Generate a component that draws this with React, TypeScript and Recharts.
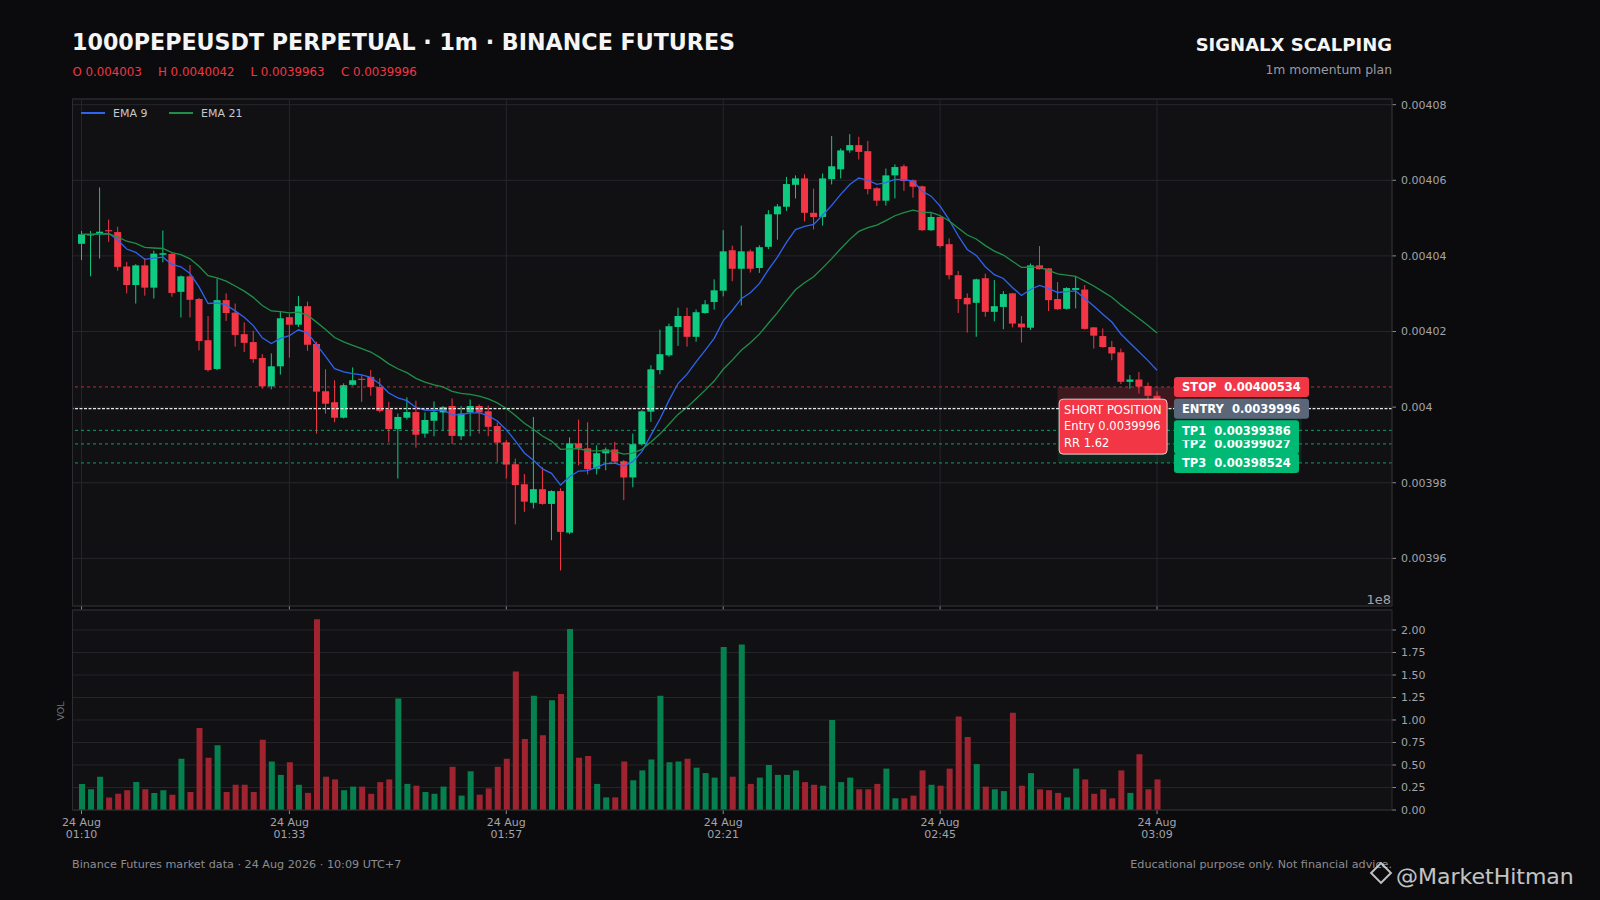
import React from 'react';
import {
  ComposedChart,
  Bar,
  Line,
  XAxis,
  YAxis,
  CartesianGrid,
  ReferenceLine,
  ReferenceArea,
  Cell,
} from 'recharts';

// 1m candles, 01:10 -> 03:09 (index 0..119)
const opens = [
  0.0040432, 0.0040454, 0.0040459, 0.0040468, 0.0040463, 0.0040372, 0.0040323, 0.0040375, 0.0040316, 0.0040403,
  0.0040405, 0.0040305, 0.0040346, 0.0040286, 0.0040177, 0.0040101, 0.0040283, 0.004025, 0.0040193, 0.0040172,
  0.004013, 0.0040055, 0.0040108, 0.0040238, 0.0040218, 0.0040267, 0.0040167, 0.0040042, 0.0040013, 0.0039972,
  0.0040059, 0.0040075, 0.004008, 0.0040053, 0.0039994, 0.0039942, 0.0039972, 0.0039987, 0.003993, 0.0039964,
  0.0039986, 0.0040003, 0.0039923, 0.0039986, 0.0040003, 0.0039989, 0.003995, 0.0039907, 0.0039849, 0.0039796,
  0.0039747, 0.0039783, 0.0039744, 0.0039778, 0.0039668, 0.0039904, 0.0039891, 0.0039837, 0.0039878, 0.0039888,
  0.0039857, 0.0039814, 0.0039902, 0.0039988, 0.0040098, 0.0040137, 0.0040212, 0.0040241, 0.0040186, 0.0040249,
  0.0040278, 0.0040308, 0.0040415, 0.0040366, 0.0040412, 0.0040368, 0.0040424, 0.004051, 0.004053, 0.0040588,
  0.0040605, 0.0040514, 0.0040503, 0.0040603, 0.0040629, 0.0040679, 0.0040693, 0.0040677, 0.0040579, 0.0040546,
  0.0040613, 0.0040637, 0.00406, 0.0040584, 0.0040468, 0.0040503, 0.0040431, 0.0040349, 0.0040289, 0.0040276,
  0.0040341, 0.0040252, 0.0040265, 0.0040301, 0.0040221, 0.004021, 0.0040375, 0.0040367, 0.0040286, 0.004026,
  0.004031, 0.0040311, 0.0040211, 0.0040188, 0.0040159, 0.0040145, 0.0040067, 0.0040073, 0.0040056, 0.004003,
];
const highs = [
  0.0040466, 0.0040466, 0.0040581, 0.0040496, 0.0040477, 0.0040384, 0.0040378, 0.0040394, 0.0040414, 0.0040467,
  0.0040408, 0.0040348, 0.0040376, 0.0040289, 0.0040241, 0.004034, 0.0040301, 0.0040274, 0.0040224, 0.0040202,
  0.004014, 0.0040142, 0.0040252, 0.0040248, 0.0040294, 0.0040279, 0.0040173, 0.00401, 0.0040071, 0.0040063,
  0.0040105, 0.0040085, 0.0040098, 0.0040076, 0.0040014, 0.0039983, 0.0040026, 0.0040017, 0.0039986, 0.0040015,
  0.0040003, 0.0040023, 0.0040003, 0.004002, 0.0040007, 0.0040004, 0.0039959, 0.0039913, 0.0039864, 0.0039823,
  0.0039974, 0.0039841, 0.003978, 0.0039785, 0.003992, 0.0039967, 0.003996, 0.0039899, 0.0039893, 0.0039908,
  0.003986, 0.003993, 0.0039992, 0.0040111, 0.0040205, 0.0040221, 0.0040263, 0.0040263, 0.0040258, 0.0040283,
  0.0040338, 0.0040468, 0.0040427, 0.004048, 0.0040417, 0.0040428, 0.0040521, 0.0040537, 0.0040609, 0.0040613,
  0.0040616, 0.0040578, 0.0040618, 0.0040717, 0.0040684, 0.0040722, 0.0040715, 0.0040704, 0.0040582, 0.0040631,
  0.0040642, 0.0040642, 0.0040602, 0.0040586, 0.0040516, 0.0040505, 0.0040446, 0.004036, 0.0040301, 0.004034,
  0.0040353, 0.0040336, 0.0040307, 0.0040302, 0.0040241, 0.004038, 0.0040426, 0.0040368, 0.0040331, 0.0040317,
  0.0040346, 0.0040323, 0.0040212, 0.0040208, 0.0040175, 0.0040155, 0.0040085, 0.0040093, 0.0040065, 0.0040042,
];
const lows = [
  0.0040389, 0.0040346, 0.0040393, 0.0040437, 0.0040361, 0.0040301, 0.0040274, 0.0040295, 0.0040287, 0.0040383,
  0.0040292, 0.0040237, 0.0040237, 0.004015, 0.0040094, 0.0040098, 0.0040228, 0.004016, 0.0040146, 0.0040117,
  0.0040049, 0.0040047, 0.0040086, 0.0040131, 0.0040212, 0.0040149, 0.003993, 0.0039983, 0.003996, 0.003997,
  0.0040057, 0.0040014, 0.004003, 0.0039986, 0.0039907, 0.0039811, 0.0039967, 0.0039893, 0.0039919, 0.0039923,
  0.0039939, 0.0039902, 0.0039913, 0.0039923, 0.003993, 0.0039923, 0.0039855, 0.0039811, 0.003969, 0.0039723,
  0.0039732, 0.0039742, 0.0039648, 0.0039568, 0.0039664, 0.0039846, 0.0039822, 0.0039822, 0.0039833, 0.0039851,
  0.0039754, 0.0039788, 0.0039898, 0.0039961, 0.0040087, 0.0040133, 0.0040162, 0.004016, 0.0040173, 0.0040247,
  0.0040258, 0.0040293, 0.0040333, 0.0040269, 0.0040356, 0.0040355, 0.0040418, 0.0040443, 0.0040519, 0.0040552,
  0.0040491, 0.004047, 0.004048, 0.0040589, 0.0040605, 0.0040673, 0.0040655, 0.0040563, 0.0040532, 0.0040533,
  0.0040552, 0.0040572, 0.0040554, 0.0040466, 0.0040466, 0.0040422, 0.0040338, 0.0040249, 0.0040197, 0.0040186,
  0.0040239, 0.0040227, 0.0040206, 0.0040211, 0.0040171, 0.0040204, 0.0040364, 0.0040254, 0.0040257, 0.0040258,
  0.0040261, 0.0040205, 0.0040155, 0.0040157, 0.0040124, 0.0040061, 0.0040049, 0.0040036, 0.0040014, 0.0039963,
];
const closes = [
  0.0040457, 0.0040457, 0.0040464, 0.0040465, 0.0040371, 0.0040323, 0.0040375, 0.0040316, 0.0040406, 0.0040407,
  0.0040302, 0.0040346, 0.0040284, 0.0040175, 0.0040098, 0.0040283, 0.0040249, 0.0040191, 0.004017, 0.0040127,
  0.0040055, 0.0040108, 0.0040235, 0.0040218, 0.0040267, 0.0040165, 0.0040041, 0.0040009, 0.0039972, 0.0040058,
  0.0040071, 0.0040072, 0.0040053, 0.003999, 0.0039942, 0.0039974, 0.0039987, 0.0039927, 0.0039966, 0.0039987,
  0.004, 0.0039924, 0.0039983, 0.0040003, 0.0039986, 0.0039948, 0.0039906, 0.0039848, 0.0039794, 0.003975,
  0.0039783, 0.0039744, 0.0039778, 0.003967, 0.0039904, 0.0039891, 0.0039836, 0.0039878, 0.0039888, 0.0039856,
  0.0039814, 0.0039902, 0.0039989, 0.00401, 0.004014, 0.0040214, 0.0040241, 0.0040186, 0.0040251, 0.0040272,
  0.0040309, 0.0040412, 0.0040366, 0.0040412, 0.0040366, 0.0040423, 0.004051, 0.0040531, 0.004059, 0.0040605,
  0.0040514, 0.0040503, 0.0040605, 0.0040637, 0.0040679, 0.0040693, 0.0040675, 0.0040577, 0.0040546, 0.0040613,
  0.0040635, 0.0040598, 0.0040583, 0.0040468, 0.0040503, 0.0040426, 0.0040349, 0.0040286, 0.0040272, 0.0040338,
  0.0040252, 0.0040267, 0.0040299, 0.0040221, 0.0040211, 0.0040375, 0.0040365, 0.0040283, 0.0040259, 0.0040315,
  0.0040315, 0.0040207, 0.0040189, 0.0040159, 0.0040142, 0.0040067, 0.0040073, 0.0040054, 0.004003, 0.0039996,
];
// volume, in units of 1e8
const volumes = [
  0.29, 0.23, 0.37, 0.14, 0.18, 0.22, 0.31, 0.23, 0.19, 0.22,
  0.17, 0.57, 0.2, 0.91, 0.58, 0.72, 0.2, 0.28, 0.28, 0.2,
  0.78, 0.54, 0.39, 0.53, 0.28, 0.19, 2.12, 0.37, 0.34, 0.22,
  0.26, 0.26, 0.18, 0.31, 0.34, 1.24, 0.29, 0.27, 0.2, 0.18,
  0.26, 0.48, 0.16, 0.43, 0.17, 0.24, 0.48, 0.57, 1.54, 0.79,
  1.27, 0.83, 1.22, 1.29, 2.01, 0.58, 0.6, 0.29, 0.14, 0.14,
  0.54, 0.33, 0.44, 0.56, 1.27, 0.53, 0.54, 0.57, 0.47, 0.41,
  0.36, 1.81, 0.37, 1.84, 0.29, 0.36, 0.5, 0.39, 0.39, 0.44,
  0.31, 0.28, 0.27, 1.0, 0.31, 0.36, 0.23, 0.23, 0.29, 0.46,
  0.13, 0.13, 0.16, 0.44, 0.28, 0.27, 0.46, 1.04, 0.81, 0.51,
  0.26, 0.23, 0.21, 1.08, 0.27, 0.41, 0.23, 0.22, 0.19, 0.14,
  0.46, 0.34, 0.18, 0.23, 0.13, 0.44, 0.19, 0.62, 0.23, 0.34,
];

const timeTicks = [0, 23, 47, 71, 95, 119];
const timeLabels = ['01:10', '01:33', '01:57', '02:21', '02:45', '03:09'];
const priceTicks = [0.00396, 0.00398, 0.004, 0.00402, 0.00404, 0.00406, 0.00408];
const volumeTicks = [0, 0.25, 0.5, 0.75, 1, 1.25, 1.5, 1.75, 2];

const STOP = 0.00400534;
const ENTRY = 0.0039996;
const TP1 = 0.00399386;
const TP2 = 0.00399027;
const TP3 = 0.00398524;

const UP = '#0ecb81';
const DOWN = '#f23645';
const VOL_UP = '#07804f';
const VOL_DOWN = '#9f2430';
const GRID = '#26262b';
const TICK_TEXT = '#a3a3aa';
const FONT = '"DejaVu Sans", sans-serif';

// EMA of the closes (same indicator the source chart plots)
function ema(values: number[], span: number) {
  const k = 2 / (span + 1);
  const out: number[] = [];
  values.forEach((v, idx) => out.push(idx === 0 ? v : v * k + out[idx - 1] * (1 - k)));
  return out;
}

const ema9 = ema(closes, 9);
const ema21 = ema(closes, 21);

const rows = closes.map((c, i) => ({
  i,
  o: opens[i],
  h: highs[i],
  l: lows[i],
  c,
  range: [lows[i], highs[i]],
  ema9: ema9[i],
  ema21: ema21[i],
  vol: volumes[i],
}));

const Candle = (props: any) => {
  const { x, y, width, height, payload } = props;
  if (x == null || !payload) return null;
  const top = Math.min(y, y + height);
  const span = Math.abs(height);
  const unit = span / (payload.h - payload.l);
  const yo = top + (payload.h - payload.o) * unit;
  const yc = top + (payload.h - payload.c) * unit;
  const color = payload.c >= payload.o ? UP : DOWN;
  const cx = x + width / 2;
  return (
    <g>
      <line x1={cx} x2={cx} y1={top} y2={top + span} stroke={color} strokeWidth={1} />
      <rect x={x} y={Math.min(yo, yc)} width={width} height={Math.max(Math.abs(yo - yc), 1)} fill={color} />
    </g>
  );
};

const EmptyTick = () => <g />;

const TimeTick = (props: any) => {
  const { x, y, payload } = props;
  const idx = timeTicks.indexOf(payload.value);
  return (
    <text x={x} y={y} textAnchor="middle" fill={TICK_TEXT} fontSize={11} fontFamily={FONT}>
      <tspan x={x} dy={10}>24 Aug</tspan>
      <tspan x={x} dy={11.5}>{timeLabels[idx]}</tspan>
    </text>
  );
};

const PriceTag = (props: any) => {
  const { viewBox, text, fill, w } = props;
  if (!viewBox) return null;
  const left = viewBox.x + viewBox.width - 218;
  return (
    <g>
      <rect x={left} y={viewBox.y - 10} width={w} height={20} rx={3} fill={fill} />
      <text
        x={left + 8}
        y={viewBox.y + 4.2}
        fill="#ffffff"
        fontSize={11.5}
        fontWeight="bold"
        fontFamily={FONT}
        style={{ whiteSpace: 'pre' }}
      >
        {text}
      </text>
    </g>
  );
};

// drawn as the label of an invisible segment at the entry price, so it sits above the level lines
const PositionBox = (props: any) => {
  const { viewBox } = props;
  if (!viewBox) return null;
  const left = viewBox.x + 1.5;
  const top = viewBox.y - 9.5;
  return (
    <g>
      <rect x={left} y={top} width={108} height={55} rx={4} fill={DOWN} stroke="rgba(255,255,255,0.75)" strokeWidth={1} />
      <text fill="#ffffff" fontSize={11.5} fontFamily={FONT}>
        <tspan x={left + 5} y={top + 15}>SHORT POSITION</tspan>
        <tspan x={left + 5} y={top + 31}>Entry 0.0039996</tspan>
        <tspan x={left + 5} y={top + 47.5}>RR 1.62</tspan>
      </text>
    </g>
  );
};

const formatPrice = (v: number) => String(parseFloat(v.toFixed(5)));

export default function App() {
  return (
    <div
      style={{
        position: 'absolute',
        left: 0,
        top: 0,
        width: 1600,
        height: 900,
        background: '#0b0b0d',
        overflow: 'hidden',
        fontFamily: FONT,
      }}
    >
      {/* panel backgrounds */}
      <div style={{ position: 'absolute', left: 72.5, top: 99, width: 1319.5, height: 507, background: '#111114' }} />
      <div style={{ position: 'absolute', left: 72.5, top: 610, width: 1319.5, height: 200, background: '#111114' }} />

      {/* price panel */}
      <div style={{ position: 'absolute', left: 0, top: 0 }}>
        <ComposedChart width={1600} height={640} data={rows} margin={{ top: 99, right: 148, bottom: 14, left: 72.5 }}>
          <CartesianGrid stroke={GRID} strokeWidth={1} />
          <XAxis
            dataKey="i"
            type="number"
            domain={[-1, 145]}
            allowDataOverflow
            ticks={timeTicks}
            interval={0}
            height={20}
            axisLine={false}
            tickLine={{ stroke: '#8a8a90' }}
            tickSize={4}
            tick={EmptyTick}
          />
          <YAxis
            orientation="right"
            type="number"
            domain={[0.0039474, 0.0040815]}
            allowDataOverflow
            ticks={priceTicks}
            interval={0}
            width={60}
            axisLine={false}
            tickLine={{ stroke: '#8a8a90' }}
            tickSize={4}
            tickMargin={5}
            tick={{ fill: TICK_TEXT, fontSize: 11, fontFamily: FONT }}
            tickFormatter={formatPrice}
          />
          <ReferenceArea x1={108} x2={135} y1={STOP} y2={ENTRY} fill="#f23645" fillOpacity={0.2} stroke="none" />
          <ReferenceArea x1={108} x2={135} y1={ENTRY} y2={TP3} fill="#0ecb81" fillOpacity={0.1} stroke="none" />
          <Bar dataKey="range" barSize={7} shape={Candle} isAnimationActive={false} />
          <Line dataKey="ema9" type="linear" stroke="#2f64f0" strokeWidth={1.3} dot={false} isAnimationActive={false} />
          <Line dataKey="ema21" type="linear" stroke="#1f8f48" strokeWidth={1.3} dot={false} isAnimationActive={false} />
          <ReferenceLine
            y={TP3}
            stroke={UP}
            strokeOpacity={0.75}
            strokeDasharray="3 3"
            label={<PriceTag text="TP3  0.00398524" fill="#00b975" w={125} />}
          />
          <ReferenceLine
            y={TP2}
            stroke={UP}
            strokeOpacity={0.75}
            strokeDasharray="3 3"
            label={<PriceTag text="TP2  0.00399027" fill="#00b975" w={125} />}
          />
          <ReferenceLine
            y={TP1}
            stroke={UP}
            strokeOpacity={0.75}
            strokeDasharray="3 3"
            label={<PriceTag text="TP1  0.00399386" fill="#00b975" w={125} />}
          />
          <ReferenceLine
            y={ENTRY}
            stroke="#e6e6e6"
            strokeWidth={1.2}
            strokeDasharray="3 1.5"
            label={<PriceTag text="ENTRY  0.0039996" fill="#5b6779" w={135} />}
          />
          <ReferenceLine
            y={STOP}
            stroke={DOWN}
            strokeOpacity={0.75}
            strokeDasharray="3 3"
            label={<PriceTag text="STOP  0.00400534" fill={DOWN} w={135} />}
          />
          <ReferenceLine
            segment={[
              { x: 108, y: ENTRY },
              { x: 120, y: ENTRY },
            ]}
            stroke="none"
            strokeOpacity={0}
            label={<PositionBox />}
          />
        </ComposedChart>
      </div>

      {/* volume panel */}
      <div style={{ position: 'absolute', left: 0, top: 600 }}>
        <ComposedChart width={1600} height={260} data={rows} margin={{ top: 10, right: 148, bottom: 10, left: 72.5 }}>
          <CartesianGrid stroke={GRID} strokeWidth={1} vertical={false} />
          <XAxis
            dataKey="i"
            type="number"
            domain={[-1, 145]}
            allowDataOverflow
            ticks={timeTicks}
            interval={0}
            height={40}
            axisLine={false}
            tickLine={{ stroke: '#8a8a90' }}
            tickSize={4}
            tickMargin={2}
            tick={TimeTick}
          />
          <YAxis
            orientation="right"
            type="number"
            domain={[0, 2.2222]}
            allowDataOverflow
            ticks={volumeTicks}
            interval={0}
            width={60}
            axisLine={false}
            tickLine={{ stroke: '#8a8a90' }}
            tickSize={4}
            tickMargin={5}
            tick={{ fill: TICK_TEXT, fontSize: 11, fontFamily: FONT }}
            tickFormatter={(v: number) => v.toFixed(2)}
          />
          <Bar dataKey="vol" barSize={6} isAnimationActive={false}>
            {rows.map((r) => (
              <Cell key={r.i} fill={r.c >= r.o ? VOL_UP : VOL_DOWN} />
            ))}
          </Bar>
        </ComposedChart>
      </div>

      {/* frames, titles, legend, footer */}
      <svg width={1600} height={900} style={{ position: 'absolute', left: 0, top: 0, pointerEvents: 'none' }}>
        <rect x={72.5} y={99} width={1319.5} height={507} fill="none" stroke="#2c2c31" />
        <rect x={72.5} y={610} width={1319.5} height={200} fill="none" stroke="#2c2c31" />

        <text x={72} y={50} fill="#f5f5f5" fontSize={22.2} fontWeight="bold" fontFamily={FONT}>
          1000PEPEUSDT PERPETUAL · 1m · BINANCE FUTURES
        </text>
        <text fill={DOWN} fontSize={11.8} fontFamily={FONT} y={76}>
          <tspan x={72.5}>O 0.004003</tspan>
          <tspan x={158}>H 0.0040042</tspan>
          <tspan x={250.5}>L 0.0039963</tspan>
          <tspan x={341}>C 0.0039996</tspan>
        </text>
        <text x={1392} y={51} textAnchor="end" fill="#f5f5f5" fontSize={18} fontWeight="bold" fontFamily={FONT}>
          SIGNALX SCALPING
        </text>
        <text x={1392} y={74} textAnchor="end" fill="#9a9aa2" fontSize={12.4} fontFamily={FONT}>
          1m momentum plan
        </text>

        <line x1={81} x2={105} y1={113} y2={113} stroke="#2f64f0" strokeWidth={2} />
        <text x={113} y={117} fill="#c8c8cc" fontSize={11} fontFamily={FONT}>EMA 9</text>
        <line x1={169} x2={193} y1={113} y2={113} stroke="#1f8f48" strokeWidth={2} />
        <text x={201} y={117} fill="#c8c8cc" fontSize={11} fontFamily={FONT}>EMA 21</text>

        <text x={1391} y={604} textAnchor="end" fill={TICK_TEXT} fontSize={13} fontFamily={FONT}>1e8</text>
        <text
          x={0}
          y={0}
          transform="translate(64 711) rotate(-90)"
          textAnchor="middle"
          fill="#77777d"
          fontSize={9.5}
          fontFamily={FONT}
        >
          VOL
        </text>

        <text x={72} y={868} fill="#8b8b92" fontSize={11.2} fontFamily={FONT}>
          Binance Futures market data · 24 Aug 2026 · 10:09 UTC+7
        </text>
        <text x={1392} y={868} textAnchor="end" fill="#8b8b92" fontSize={11.2} fontFamily={FONT}>
          Educational purpose only. Not financial advice.
        </text>

        <g opacity={0.85}>
          <rect x={1374} y={866} width={14} height={14} transform="rotate(45 1381 873)" fill="none" stroke="#e0e0e0" strokeWidth={2} />
          <text x={1396} y={884} fill="#e4e4e4" fontSize={22} fontFamily={FONT}>@MarketHitman</text>
        </g>
      </svg>
    </div>
  );
}
